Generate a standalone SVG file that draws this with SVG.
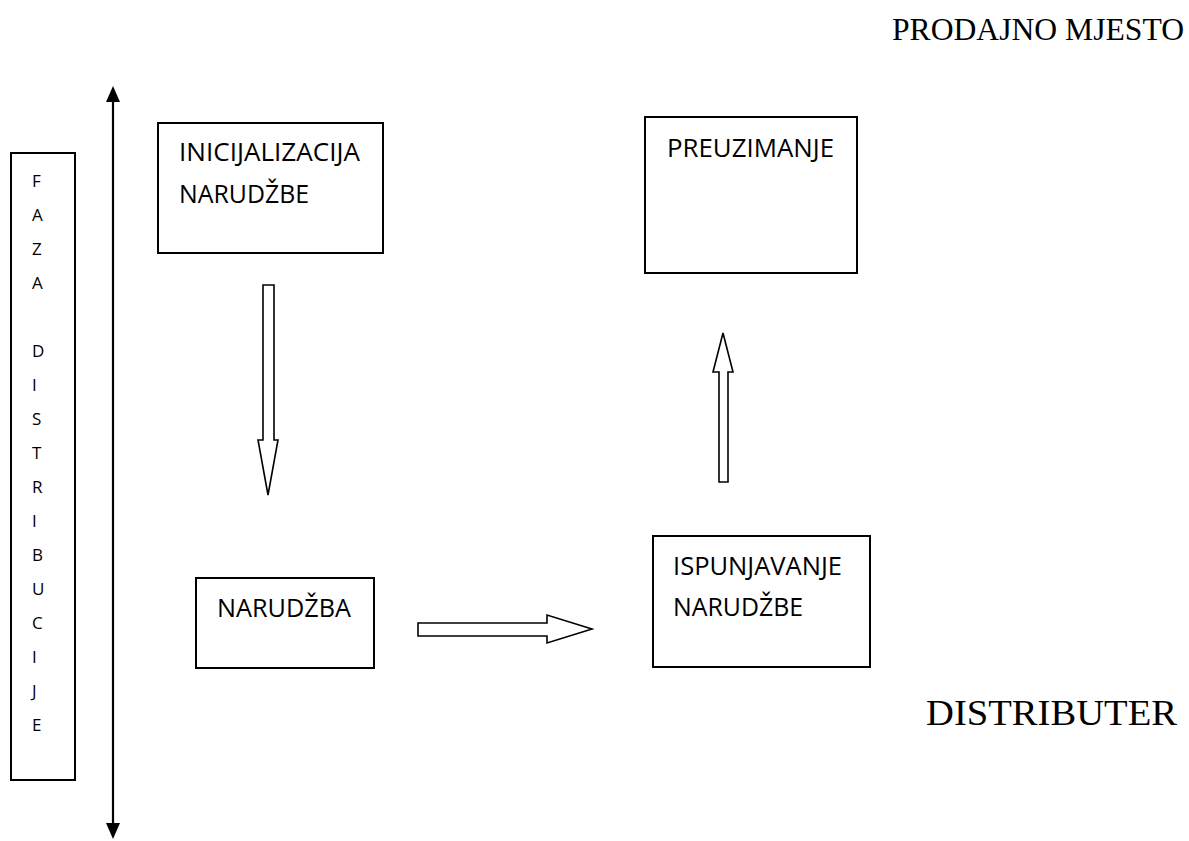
<svg xmlns="http://www.w3.org/2000/svg" width="1189" height="841" viewBox="0 0 1189 841">
  <defs>
    <style>
      .box { fill: #fff; stroke: #000; stroke-width: 2; }
      .lbl { font-family: "Open Sans", "Liberation Sans", sans-serif; font-size: 25px; fill: #000; }
      .ser { font-family: "Liberation Serif", "Times New Roman", serif; fill: #000; }
      .vert { font-family: "Open Sans", "Liberation Sans", sans-serif; font-size: 17px; fill: #000; }
      .blk { fill: #fff; stroke: #000; stroke-width: 1.6; stroke-linejoin: miter; }
    </style>
  </defs>
  <rect width="1189" height="841" fill="#fff"/>

  <g id="title-prodajno">
    <text class="ser" x="892" y="40" font-size="31" textLength="292" lengthAdjust="spacingAndGlyphs">PRODAJNO MJESTO</text>
  </g>
  <g id="title-distributer">
    <text class="ser" x="926" y="725" font-size="36" textLength="251" lengthAdjust="spacingAndGlyphs">DISTRIBUTER</text>
  </g>

  <g id="faza">
    <rect class="box" x="11" y="153" width="64" height="627"/>
    <g class="vert">
      <text x="32" y="187">F</text>
      <text x="32" y="221">A</text>
      <text x="32" y="255">Z</text>
      <text x="32" y="289">A</text>
      <text x="32" y="357">D</text>
      <text x="32" y="391">I</text>
      <text x="32" y="425">S</text>
      <text x="32" y="459">T</text>
      <text x="32" y="493">R</text>
      <text x="32" y="527">I</text>
      <text x="32" y="561">B</text>
      <text x="32" y="595">U</text>
      <text x="32" y="629">C</text>
      <text x="32" y="663">I</text>
      <text x="32" y="697">J</text>
      <text x="32" y="731">E</text>
    </g>
  </g>

  <g id="inicijalizacija">
    <rect class="box" x="158" y="123" width="225" height="130"/>
    <text class="lbl" x="179" y="161" textLength="181" lengthAdjust="spacingAndGlyphs">INICIJALIZACIJA</text>
    <text class="lbl" x="179" y="203" textLength="130" lengthAdjust="spacingAndGlyphs">NARUDŽBE</text>
  </g>

  <g id="preuzimanje">
    <rect class="box" x="645" y="117" width="212" height="156"/>
    <text class="lbl" x="667" y="157" textLength="167" lengthAdjust="spacingAndGlyphs">PREUZIMANJE</text>
  </g>

  <g id="narudzba">
    <rect class="box" x="196" y="578" width="178" height="90"/>
    <text class="lbl" x="217" y="617" textLength="134" lengthAdjust="spacingAndGlyphs">NARUDŽBA</text>
  </g>

  <g id="ispunjavanje">
    <rect class="box" x="653" y="536" width="217" height="131"/>
    <text class="lbl" x="673" y="575" textLength="169" lengthAdjust="spacingAndGlyphs">ISPUNJAVANJE</text>
    <text class="lbl" x="673" y="616" textLength="130" lengthAdjust="spacingAndGlyphs">NARUDŽBE</text>
  </g>

  <g id="connectors">
    <line x1="113" y1="98" x2="113" y2="826" stroke="#000" stroke-width="2.2"/>
    <polygon points="113,86 120,102 106,102" fill="#000"/>
    <polygon points="113,839 120,823 106,823" fill="#000"/>
    <polygon class="blk" points="263,285 274,285 274,440 278,440 268,495 258,440 263,440"/>
    <polygon class="blk" points="418,623 547,623 547,615 592,629 547,643 547,636 418,636"/>
    <polygon class="blk" points="719,482 728,482 728,372 733,372 723,333 713,372 719,372"/>
  </g>
</svg>
